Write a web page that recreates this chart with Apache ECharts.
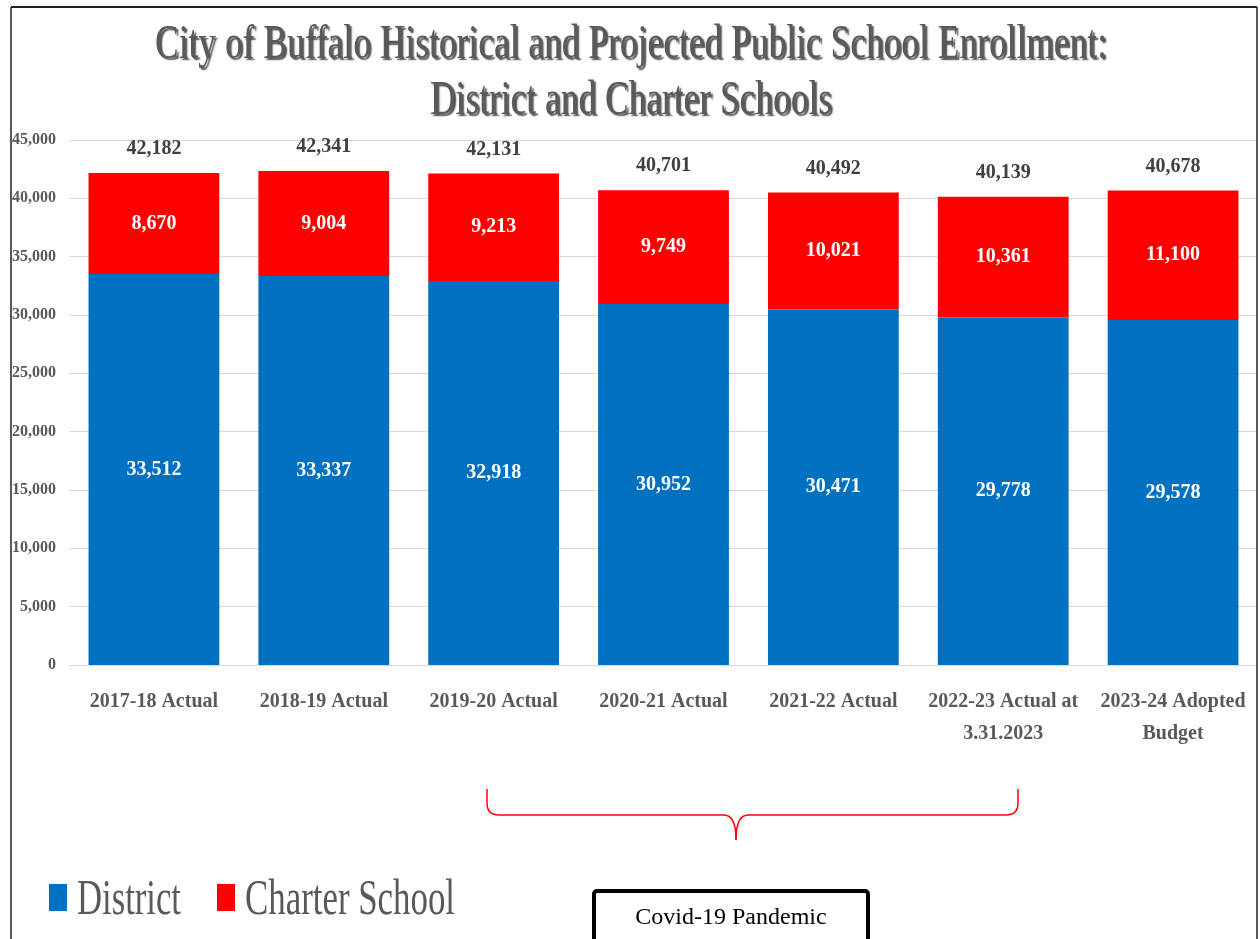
<!DOCTYPE html>
<html>
<head>
<meta charset="utf-8">
<script src="https://cdn.jsdelivr.net/npm/echarts@6/dist/echarts.min.js"></script>
<style>
html,body{margin:0;padding:0;background:#fff;}
#chart{width:1260px;height:939px;}
</style>
</head>
<body>
<div id="chart"></div>
<script>
const categories = ['2017-18 Actual','2018-19 Actual','2019-20 Actual','2020-21 Actual','2021-22 Actual','2022-23 Actual at\n3.31.2023','2023-24 Adopted\nBudget'];
const seriesNames = ['District', 'Charter School'];
const district = [33512, 33337, 32918, 30952, 30471, 29778, 29578];
const charter = [8670, 9004, 9213, 9749, 10021, 10361, 11100];
const totals = [42182, 42341, 42131, 40701, 40492, 40139, 40678];
const yTicks = {min: 0, max: 45000, interval: 5000};

const FONT = 'Liberation Serif';
const BLUE = '#0070C0', RED = '#FF0000';
function fmt(v){ return Number(v).toLocaleString('en-US'); }
function measure(text, font){
  const c = document.createElement('canvas').getContext('2d');
  c.font = font;
  return c.measureText(text).width;
}
const t1 = 'City of Buffalo Historical and Projected Public School Enrollment:';
const t2 = 'District and Charter Schools';
const s1 = 952 / measure(t1, '48px "Liberation Serif"');
const s2 = 402 / measure(t2, '48px "Liberation Serif"');
const LGF = '50px "Liberation Serif"';
const sl1 = 104 / measure(seriesNames[0], LGF);
const sl2 = 210 / measure(seriesNames[1], LGF);

const braceStyle = {stroke: RED, lineWidth: 1.5, fill: 'none'};
function ln(x1,y1,x2,y2){ return {type:'line', z:100, shape:{x1,y1,x2,y2}, style: braceStyle}; }
function qc(x1,y1,cx,cy,x2,y2){ return {type:'bezierCurve', z:100, shape:{x1,y1,x2,y2,cpx1:cx,cpy1:cy}, style: braceStyle}; }

const legendBase = {itemWidth: 18, itemHeight: 27, icon: 'rect', top: 884, padding: 0,
  formatter: () => ' ', textStyle: {fontSize: 10}};

const chart = echarts.init(document.getElementById('chart'), null, {renderer:'canvas'});
const option = {
  backgroundColor: '#ffffff',
  animation: false,
  textStyle: {fontFamily: FONT},
  grid: {left: 69, right: 2, top: 140, bottom: 274, containLabel: false},
  legend: [
    Object.assign({}, legendBase, {data: [seriesNames[0]], left: 49}),
    Object.assign({}, legendBase, {data: [seriesNames[1]], left: 217})
  ],
  xAxis: {
    type: 'category',
    data: categories,
    axisTick: {show: false},
    axisLine: {show: true, lineStyle: {color: '#d9d9d9', width: 1}},
    axisLabel: {
      interval: 0, margin: 21,
      fontFamily: FONT, fontSize: 20, fontWeight: 'bold', color: '#595959', lineHeight: 32
    }
  },
  yAxis: {
    type: 'value',
    min: yTicks.min, max: yTicks.max, interval: yTicks.interval,
    axisLine: {show: false},
    axisTick: {show: false},
    splitLine: {lineStyle: {color: '#d9d9d9', width: 1}},
    axisLabel: {
      margin: 13, fontFamily: FONT, fontSize: 16, fontWeight: 'bold', color: '#595959',
      formatter: fmt
    }
  },
  series: [
    {
      name: seriesNames[0], type: 'bar', stack: 'a', data: district, barWidth: '77%',
      itemStyle: {color: BLUE},
      label: {show: true, position: 'inside', formatter: p => fmt(p.value),
        fontFamily: FONT, fontSize: 20, fontWeight: 'bold', color: '#ffffff'}
    },
    {
      name: seriesNames[1], type: 'bar', stack: 'a', data: charter, barWidth: '77%',
      itemStyle: {color: RED},
      label: {show: true, position: 'inside', formatter: p => fmt(p.value),
        fontFamily: FONT, fontSize: 20, fontWeight: 'bold', color: '#ffffff'}
    },
    {
      name: 'Total', type: 'bar', stack: 'a', data: totals.map(() => 0), barWidth: '77%',
      itemStyle: {color: 'transparent'},
      label: {show: true, position: 'top', distance: 14,
        formatter: p => fmt(totals[p.dataIndex]),
        fontFamily: FONT, fontSize: 20, fontWeight: 'bold', color: '#404040'}
    }
  ],
  graphic: [
    {type: 'line', shape: {x1: 11, y1: 7, x2: 1257, y2: 7}, style: {stroke: '#222', lineWidth: 2}, z: 100},
    {type: 'line', shape: {x1: 11, y1: 7, x2: 11, y2: 939}, style: {stroke: '#222', lineWidth: 1.5}, z: 100},
    {type: 'line', shape: {x1: 1257, y1: 7, x2: 1257, y2: 939}, style: {stroke: '#222', lineWidth: 1.5}, z: 100},
    {type: 'text', x: 631, y: 45, scaleX: s1, z: 100,
      style: {text: t1, font: '48px "Liberation Serif"', fill: '#5a5a5a', align: 'center', verticalAlign: 'middle',
        textShadowColor: 'rgba(0,0,0,0.7)', textShadowOffsetX: 2, textShadowOffsetY: 2, textShadowBlur: 1.5}},
    {type: 'text', x: 631, y: 101, scaleX: s2, z: 100,
      style: {text: t2, font: '48px "Liberation Serif"', fill: '#5a5a5a', align: 'center', verticalAlign: 'middle',
        textShadowColor: 'rgba(0,0,0,0.7)', textShadowOffsetX: 2, textShadowOffsetY: 2, textShadowBlur: 1.5}},
    {type: 'text', x: 77, y: 901, scaleX: sl1, z: 100,
      style: {text: seriesNames[0], font: LGF, fill: '#595959', align: 'left', verticalAlign: 'middle'}},
    {type: 'text', x: 245, y: 901, scaleX: sl2, z: 100,
      style: {text: seriesNames[1], font: LGF, fill: '#595959', align: 'left', verticalAlign: 'middle'}},
    ln(487,789,487,803),
    qc(487,803,487,815,499,815),
    ln(499,815,724,815),
    qc(724,815,736,815,736,840),
    qc(736,840,736,815,748,815),
    ln(748,815,1006,815),
    qc(1006,815,1018,815,1018,803),
    ln(1018,803,1018,789),
    {type: 'rect', z: 100, shape: {x: 594, y: 891, width: 274, height: 70, r: 3},
      style: {fill: '#ffffff', stroke: '#000000', lineWidth: 4}},
    {type: 'text', x: 731, y: 918, z: 101,
      style: {text: 'Covid-19 Pandemic', font: '24px "Liberation Serif"', fill: '#000', align: 'center', verticalAlign: 'middle'}}
  ]
};
chart.setOption(option);
</script>
</body>
</html>
